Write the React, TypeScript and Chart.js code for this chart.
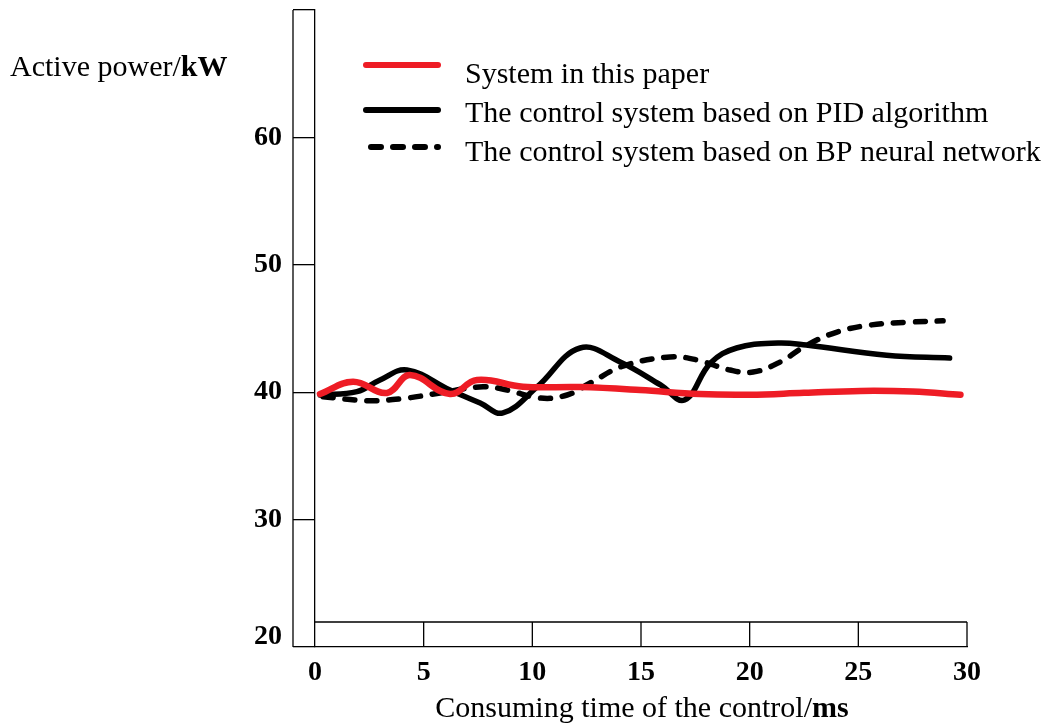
import React, { useEffect, useRef } from 'react';
import { Chart, registerables } from 'chart.js';
Chart.register(...registerables);

const FONT = '"Liberation Serif", "Times New Roman", serif';

const xTickValues = [0, 5, 10, 15, 20, 25, 30];
const yMin = 20;
const yMax = 70;
const yStep = 10;

// System in this paper (red)
const redX = [0.23, 1.75, 3.31, 4.37, 6.21, 7.45, 9.57, 12.2, 14.96, 17.7, 20.0, 22.5, 25.1, 27.5, 29.7];
const redY = [39.86, 40.82, 39.94, 41.35, 39.86, 40.96, 40.43, 40.4, 40.17, 39.85, 39.8, 39.95, 40.1, 40.05, 39.8];

// PID (black solid)
const pidX = [0.23, 1.93, 2.99, 4.23, 6.21, 7.6, 8.65, 10.22, 12.2, 14.04, 15.9, 17.0, 18.2, 19.4, 21.3, 22.6, 26.3, 29.2];
const pidY = [39.78, 40.04, 40.96, 41.74, 40.17, 39.15, 38.37, 40.41, 43.47, 42.37, 40.57, 39.39, 42.29, 43.47, 43.86, 43.7, 42.9, 42.68];

// BP neural network (black dashed)
const bpX = [0.37, 2.39, 3.91, 5.75, 7.73, 8.84, 10.35, 11.6, 12.66, 14.17, 16.34, 17.58, 19.1, 20.16, 21.4, 22.64, 24.02, 25.54, 27.38, 28.9];
const bpY = [39.65, 39.33, 39.47, 39.94, 40.43, 40.17, 39.54, 39.78, 40.72, 42.05, 42.76, 42.53, 41.74, 41.58, 42.37, 43.7, 44.72, 45.27, 45.5, 45.6];

const seriesNames = [
  'System in this paper',
  'The control system based on PID algorithm',
  'The control system based on BP neural network',
];
const xTitleParts = ['Consuming time of the control/', 'ms'];
const yTitleParts = ['Active power/', 'kW'];

const RED = '#ee1c25';
const BLACK = '#000000';

const toPts = (xs: number[], ys: number[]) => xs.map((x, i) => ({ x, y: ys[i] }));

const decorPlugin = {
  id: 'decor',
  afterDraw(chart: any) {
    const ctx = chart.ctx as CanvasRenderingContext2D;
    const xs = chart.scales.x;
    const ys = chart.scales.y;
    const ca = chart.chartArea;
    const stripW = 22;
    const stripH = 25;
    ctx.save();
    ctx.strokeStyle = BLACK;
    ctx.lineWidth = 1.3;
    // left strip outer edge
    ctx.beginPath();
    ctx.moveTo(ca.left - stripW, ys.getPixelForValue(yMax));
    ctx.lineTo(ca.left - stripW, ys.getPixelForValue(yMin));
    ctx.stroke();
    // bottom strip
    const top = ca.bottom - stripH;
    ctx.beginPath();
    ctx.moveTo(ca.left, top);
    ctx.lineTo(ca.right, top);
    ctx.moveTo(ca.right, top);
    ctx.lineTo(ca.right, ca.bottom);
    xTickValues.slice(1, -1).forEach((v) => {
      const px = xs.getPixelForValue(v);
      ctx.moveTo(px, top);
      ctx.lineTo(px, ca.bottom);
    });
    ctx.stroke();

    // "20" label (raised)
    ctx.fillStyle = BLACK;
    ctx.font = `bold 28px ${FONT}`;
    ctx.textAlign = 'right';
    ctx.textBaseline = 'middle';
    ctx.fillText(String(yMin), ca.left - stripW - 11, ys.getPixelForValue(yMin) - 10);

    // titles with mixed weights
    const drawMixed = (parts: string[], x: number, y: number, size: number, center: boolean) => {
      ctx.save();
      ctx.textAlign = 'left';
      ctx.textBaseline = 'alphabetic';
      ctx.font = `${size}px ${FONT}`;
      const w1 = ctx.measureText(parts[0]).width;
      ctx.font = `bold ${size}px ${FONT}`;
      const w2 = ctx.measureText(parts[1]).width;
      const sx = center ? x - (w1 + w2) / 2 : x;
      ctx.font = `${size}px ${FONT}`;
      ctx.fillText(parts[0], sx, y);
      ctx.font = `bold ${size}px ${FONT}`;
      ctx.fillText(parts[1], sx + w1, y);
      ctx.restore();
    };
    drawMixed(yTitleParts, 10, 76, 30, false);
    drawMixed(xTitleParts, 642, 717, 30, true);

    // legend
    const legY = [65, 110, 147];
    const styles = [
      { color: RED, dash: [] as number[] },
      { color: BLACK, dash: [] as number[] },
      { color: BLACK, dash: [10, 12] },
    ];
    styles.forEach((s, i) => {
      ctx.beginPath();
      ctx.strokeStyle = s.color;
      ctx.lineWidth = 6;
      ctx.lineCap = 'round';
      ctx.setLineDash(s.dash);
      ctx.moveTo(i === 2 ? 371 : 366, legY[i]);
      ctx.lineTo(438, legY[i]);
      ctx.stroke();
    });
    ctx.setLineDash([]);
    ctx.fillStyle = BLACK;
    ctx.font = `30px ${FONT}`;
    ctx.textAlign = 'left';
    ctx.textBaseline = 'alphabetic';
    const textY = [83, 122, 161];
    seriesNames.forEach((n, i) => ctx.fillText(n, 465, textY[i]));
    ctx.restore();
  },
};

export default function App() {
  const ref = useRef<HTMLCanvasElement | null>(null);
  useEffect(() => {
    if (!ref.current) return;
    const chart = new Chart(ref.current, {
      type: 'line',
      data: {
        datasets: [
          {
            label: seriesNames[0],
            data: toPts(redX, redY),
            borderColor: RED,
            borderWidth: 6.5,
            pointRadius: 0,
            tension: 0.4,
            borderCapStyle: 'round',
            borderJoinStyle: 'round',
          },
          {
            label: seriesNames[1],
            data: toPts(pidX, pidY),
            borderColor: BLACK,
            borderWidth: 5.5,
            pointRadius: 0,
            tension: 0.4,
            borderCapStyle: 'round',
            borderJoinStyle: 'round',
          },
          {
            label: seriesNames[2],
            data: toPts(bpX, bpY),
            borderColor: BLACK,
            borderWidth: 5.5,
            borderDash: [10, 12],
            pointRadius: 0,
            tension: 0.4,
            borderCapStyle: 'round',
            borderJoinStyle: 'round',
          },
        ],
      },
      options: {
        responsive: false,
        animation: false,
        layout: { padding: { left: 0, right: 90, top: 10, bottom: 0 } },
        plugins: { legend: { display: false }, tooltip: { enabled: false } },
        scales: {
          x: {
            type: 'linear',
            min: 0,
            max: 30,
            afterBuildTicks: (s: any) => {
              s.ticks = xTickValues.map((v) => ({ value: v }));
            },
            ticks: {
              color: BLACK,
              font: { family: FONT, size: 28, weight: 'bold' },
              padding: 9,
              maxRotation: 0,
              autoSkip: false,
            },
            grid: { display: false, drawTicks: false },
            border: { display: true, color: BLACK, width: 1.3 },
            afterFit: (s: any) => {
              s.height = 78;
              s.paddingLeft = 0;
              s.paddingRight = 0;
            },
          },
          y: {
            type: 'linear',
            min: yMin,
            max: yMax,
            ticks: {
              stepSize: yStep,
              color: BLACK,
              font: { family: FONT, size: 28, weight: 'bold' },
              padding: 11,
              callback: (v: any) => (v === yMax || v === yMin ? '' : String(v)),
            },
            grid: { display: true, drawOnChartArea: false, drawTicks: true, tickLength: 22, color: BLACK, lineWidth: 1.3 },
            border: { display: true, color: BLACK, width: 1.3 },
            afterFit: (s: any) => {
              s.width = 315;
              s.paddingTop = 0;
              s.paddingBottom = 0;
            },
          },
        },
      },
      plugins: [decorPlugin],
    });
    return () => chart.destroy();
  }, []);
  return (
    <div style={{ position: 'fixed', left: 0, top: 0, width: 1057, height: 725, background: '#fff' }}>
      <canvas ref={ref} width={1057} height={725} style={{ display: 'block' }} />
    </div>
  );
}
